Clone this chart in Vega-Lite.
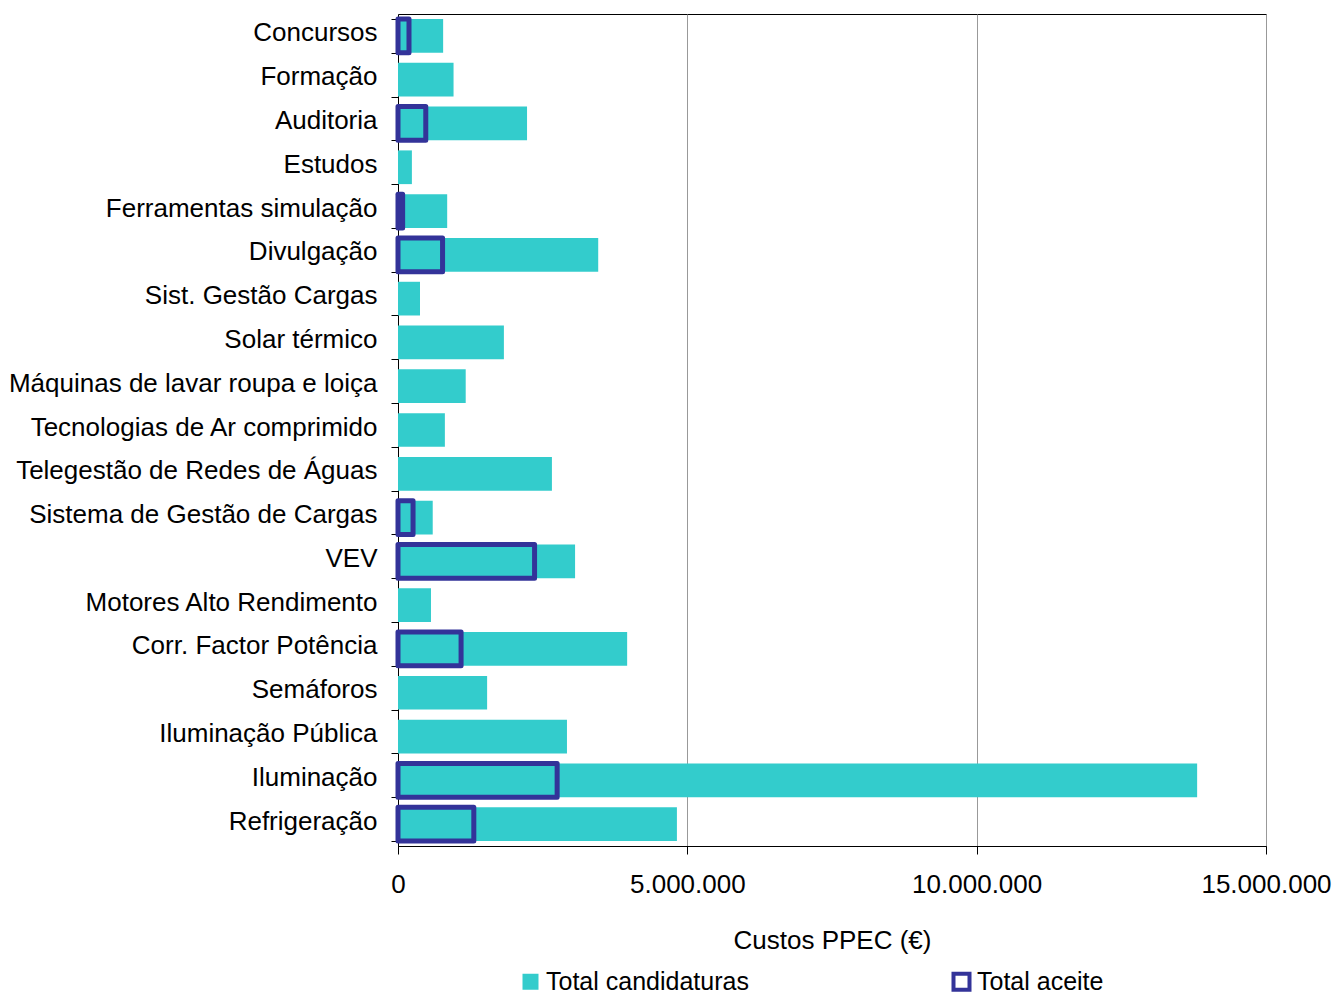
{
  "$schema": "https://vega.github.io/schema/vega-lite/v6.json",
  "autosize": {"type": "none"},
  "width": 868,
  "height": 832,
  "padding": {"left": 398, "top": 14, "right": 69, "bottom": 150},
  "background": "white",
  "config": {
    "locale": {"number": {"decimal": ",", "thousands": ".", "grouping": [3], "currency": ["", " €"]}},
    "font": "Liberation Sans",
    "view": {"stroke": "#000000", "strokeWidth": 1}
  },
  "data": {
    "values": [
      {"categoria": "Concursos", "serie": "Total candidaturas", "valor": 780000},
      {"categoria": "Formação", "serie": "Total candidaturas", "valor": 960000},
      {"categoria": "Auditoria", "serie": "Total candidaturas", "valor": 2230000},
      {"categoria": "Estudos", "serie": "Total candidaturas", "valor": 240000},
      {"categoria": "Ferramentas simulação", "serie": "Total candidaturas", "valor": 850000},
      {"categoria": "Divulgação", "serie": "Total candidaturas", "valor": 3460000},
      {"categoria": "Sist. Gestão Cargas", "serie": "Total candidaturas", "valor": 380000},
      {"categoria": "Solar térmico", "serie": "Total candidaturas", "valor": 1830000},
      {"categoria": "Máquinas de lavar roupa e loiça", "serie": "Total candidaturas", "valor": 1170000},
      {"categoria": "Tecnologias de Ar comprimido", "serie": "Total candidaturas", "valor": 810000},
      {"categoria": "Telegestão de Redes de Águas", "serie": "Total candidaturas", "valor": 2660000},
      {"categoria": "Sistema de Gestão de Cargas", "serie": "Total candidaturas", "valor": 600000},
      {"categoria": "VEV", "serie": "Total candidaturas", "valor": 3060000},
      {"categoria": "Motores Alto Rendimento", "serie": "Total candidaturas", "valor": 570000},
      {"categoria": "Corr. Factor Potência", "serie": "Total candidaturas", "valor": 3960000},
      {"categoria": "Semáforos", "serie": "Total candidaturas", "valor": 1540000},
      {"categoria": "Iluminação Pública", "serie": "Total candidaturas", "valor": 2920000},
      {"categoria": "Iluminação", "serie": "Total candidaturas", "valor": 13810000},
      {"categoria": "Refrigeração", "serie": "Total candidaturas", "valor": 4820000},
      {"categoria": "Concursos", "serie": "Total aceite", "valor": 190000},
      {"categoria": "Auditoria", "serie": "Total aceite", "valor": 480000},
      {"categoria": "Ferramentas simulação", "serie": "Total aceite", "valor": 80000},
      {"categoria": "Divulgação", "serie": "Total aceite", "valor": 770000},
      {"categoria": "Sistema de Gestão de Cargas", "serie": "Total aceite", "valor": 260000},
      {"categoria": "VEV", "serie": "Total aceite", "valor": 2360000},
      {"categoria": "Corr. Factor Potência", "serie": "Total aceite", "valor": 1090000},
      {"categoria": "Iluminação", "serie": "Total aceite", "valor": 2750000},
      {"categoria": "Refrigeração", "serie": "Total aceite", "valor": 1310000}
    ]
  },
  "mark": {"type": "bar", "strokeWidth": 5, "strokeJoin": "round"},
  "encoding": {
    "y": {
      "field": "categoria",
      "type": "nominal",
      "sort": ["Concursos", "Formação", "Auditoria", "Estudos", "Ferramentas simulação", "Divulgação", "Sist. Gestão Cargas", "Solar térmico", "Máquinas de lavar roupa e loiça", "Tecnologias de Ar comprimido", "Telegestão de Redes de Águas", "Sistema de Gestão de Cargas", "VEV", "Motores Alto Rendimento", "Corr. Factor Potência", "Semáforos", "Iluminação Pública", "Iluminação", "Refrigeração"],
      "scale": {"paddingInner": 0.23, "paddingOuter": 0.115},
      "axis": {
        "title": null,
        "tickBand": "extent",
        "tickSize": 7,
        "tickColor": "#000000",
        "domainColor": "#000000",
        "labelFontSize": 26,
        "labelColor": "#000000",
        "labelPadding": 14,
        "labelOffset": -3,
        "labelLimit": 500
      }
    },
    "x": {
      "field": "valor",
      "type": "quantitative",
      "stack": null,
      "scale": {"domain": [0, 15000000], "nice": false},
      "axis": {
        "title": "Custos PPEC (€)",
        "values": [0, 5000000, 10000000, 15000000],
        "format": ",d",
        "grid": true,
        "gridColor": "#999999",
        "tickSize": 8,
        "tickColor": "#000000",
        "domainColor": "#000000",
        "labelFontSize": 26,
        "labelColor": "#000000",
        "labelPadding": 17,
        "labelFlush": false,
        "titleFontSize": 26,
        "titleFontWeight": "normal",
        "titleColor": "#000000",
        "titlePadding": 30
      }
    },
    "fill": {
      "field": "serie",
      "type": "nominal",
      "scale": {"domain": ["Total candidaturas", "Total aceite"], "range": ["#33CCCC", "rgba(255,255,255,0)"]},
      "legend": {
        "title": null,
        "orient": "none",
        "direction": "horizontal",
        "legendX": 120,
        "legendY": 955,
        "columnPadding": 196,
        "labelFontSize": 25,
        "labelColor": "#000000",
        "labelLimit": 400,
        "symbolType": "square",
        "symbolSize": 256,
        "symbolStrokeWidth": 4,
        "labelOffset": 3
      }
    },
    "stroke": {
      "field": "serie",
      "type": "nominal",
      "scale": {"domain": ["Total candidaturas", "Total aceite"], "range": ["rgba(255,255,255,0)", "#333399"]},
      "legend": {
        "title": null,
        "orient": "none",
        "direction": "horizontal",
        "legendX": 120,
        "legendY": 955,
        "columnPadding": 196,
        "labelFontSize": 25,
        "labelColor": "#000000",
        "labelLimit": 400,
        "symbolType": "square",
        "symbolSize": 256,
        "symbolStrokeWidth": 4,
        "labelOffset": 3
      }
    }
  }
}
